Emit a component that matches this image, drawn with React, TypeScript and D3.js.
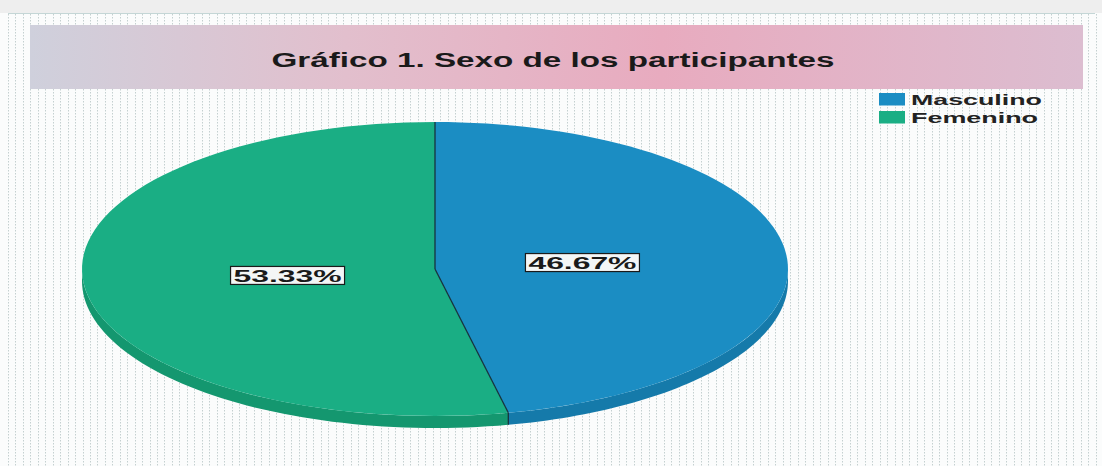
import React from 'react';
import * as d3 from 'd3';

const categories = ['Masculino', 'Femenino'];
const values = [46.67, 53.33];
const labels = ['46.67%', '53.33%'];
const topColors = ['#1b8dc3', '#1aae84'];
const sideColors = ['#157aaa', '#14976f'];

const W = 1102;
const H = 466;
const cx = 435;
const cy = 269;
const rx = 353;
const ry = 147;
const depth = 12;

// angle 0 at 12 o'clock, clockwise, like d3.pie
const px = (a: number) => cx + rx * Math.sin(a);
const py = (a: number) => cy - ry * Math.cos(a);

function topPath(a0: number, a1: number) {
  const pts = d3.range(0, 81).map(i => a0 + ((a1 - a0) * i) / 80);
  return `M${cx},${cy}` + pts.map(a => `L${px(a)},${py(a)}`).join('') + 'Z';
}

function sidePath(a0: number, a1: number) {
  const s = Math.max(a0, Math.PI / 2);
  const e = Math.min(a1, (3 * Math.PI) / 2);
  if (e <= s) return null;
  const pts = d3.range(0, 61).map(i => s + ((e - s) * i) / 60);
  const up = pts.map(a => `${px(a)},${py(a)}`);
  const down = pts.slice().reverse().map(a => `${px(a)},${py(a) + depth}`);
  return 'M' + up.join('L') + 'L' + down.join('L') + 'Z';
}

export default function App() {
  const pie = d3.pie<number>().sort(null).value(d => d);
  const arcs = pie(values);
  const stripes = d3.range(8, 1096, 7.45);

  return (
    <svg width={W} height={H} style={{ position: 'absolute', left: 0, top: 0 }}
      fontFamily="'Liberation Sans', Arial, sans-serif">
      <defs>
        <linearGradient id="band" x1="0" x2="1" y1="0" y2="0">
          <stop offset="0" stopColor="#cfd0dc" />
          <stop offset="0.3" stopColor="#e2bfcd" />
          <stop offset="0.6" stopColor="#e8abbf" />
          <stop offset="1" stopColor="#dcbdd0" />
        </linearGradient>
      </defs>
      <rect width={W} height={H} fill="#fbfcfc" />
      <rect width={W} height={13} fill="#eeeeee" />
      <line x1={8} x2={1095} y1={13.5} y2={13.5} stroke="#c4d6d6" />
      {stripes.map((x, i) => (
        <line key={i} x1={Math.round(x) + 0.5} x2={Math.round(x) + 0.5} y1={14} y2={H}
          stroke="#c4d0d0" strokeWidth={1} strokeDasharray="1.5 1.5" />
      ))}

      <rect x={30} y={25} width={1053} height={64} fill="url(#band)" />
      <text x={553} y={67} textAnchor="middle" fontSize={20} fontWeight="bold"
        fill="#1a1a1a" textLength={563} lengthAdjust="spacingAndGlyphs">
        Gráfico 1. Sexo de los participantes
      </text>

      {categories.map((c, i) => (
        <g key={c}>
          <rect x={879} y={93 + i * 18} width={26} height={12.5} fill={topColors[i]} />
          <text x={911} y={105 + i * 18} fontSize={15} fontWeight="bold" fill="#222"
            textLength={i === 0 ? 131 : 127} lengthAdjust="spacingAndGlyphs">{c}</text>
        </g>
      ))}

      {arcs.map((d, i) => {
        const p = sidePath(d.startAngle, d.endAngle);
        return p ? <path key={'s' + i} d={p} fill={sideColors[i]} /> : null;
      })}
      {arcs.map((d, i) => (
        <path key={'t' + i} d={topPath(d.startAngle, d.endAngle)} fill={topColors[i]} />
      ))}
      {arcs.map((d, i) => {
        const a = d.startAngle;
        const x = px(a);
        const y = py(a);
        const inFront = a > Math.PI / 2 && a < (3 * Math.PI) / 2;
        return (
          <g key={'b' + i} stroke="#16323e" strokeWidth={1.3} fill="none">
            <line x1={cx} y1={cy} x2={x} y2={y} />
            {inFront && <line x1={x} y1={y} x2={x} y2={y + depth} />}
          </g>
        );
      })}

      {arcs.map((d, i) => {
        const mid = (d.startAngle + d.endAngle) / 2;
        const lx = cx + rx * 0.42 * Math.sin(mid);
        const ly = cy - ry * 0.42 * Math.cos(mid);
        return (
          <g key={'l' + i}>
            <rect x={lx - 57} y={ly - 9} width={114} height={18} fill="#f4f6f6"
              stroke="#1a1a1a" strokeWidth={1.2} />
            <text x={lx} y={ly + 6.5} textAnchor="middle" fontSize={17} fontWeight="bold"
              fill="#1a1a1a" textLength={108} lengthAdjust="spacingAndGlyphs">
              {labels[i]}
            </text>
          </g>
        );
      })}
    </svg>
  );
}
